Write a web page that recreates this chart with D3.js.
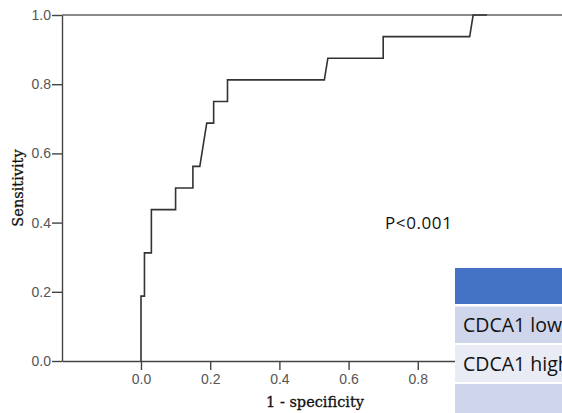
<!DOCTYPE html>
<html>
<head>
<meta charset="utf-8">
<script src="https://cdn.jsdelivr.net/npm/d3@7"></script>
<style>
  html, body { margin: 0; padding: 0; background: #fff; }
  svg { display: block; }
</style>
</head>
<body>
<script>
// ROC curve points (1 - specificity, sensitivity)
const fpr  = [0, 0, 0.01, 0.01, 0.03, 0.03, 0.10, 0.10, 0.15, 0.15, 0.17, 0.19, 0.21, 0.21, 0.25, 0.25, 0.53, 0.54, 0.70, 0.70, 0.95, 0.96, 1.0];
const sens = [0, 0.1875, 0.1875, 0.3125, 0.3125, 0.4375, 0.4375, 0.5, 0.5, 0.5625, 0.5625, 0.6875, 0.6875, 0.75, 0.75, 0.8125, 0.8125, 0.875, 0.875, 0.9375, 0.9375, 1.0, 1.0];
const xTicks = [0, 0.2, 0.4, 0.6, 0.8];
const yTicks = [0, 0.2, 0.4, 0.6, 0.8, 1.0];
const xTitle = "1 - specificity";
const yTitle = "Sensitivity";
const pText = "P<0.001";
const tableRows = ["", "CDCA1 low", "CDCA1 high", ""];

const W = 562, H = 413;
const svg = d3.select("body").append("svg").attr("width", W).attr("height", H);

const x = d3.scaleLinear().domain([-0.2283, 1.2168]).range([62, 562]);
const y = d3.scaleLinear().domain([0, 1]).range([361, 15]);

// top frame line
svg.append("line")
  .attr("x1", x(-0.2283)).attr("x2", 562)
  .attr("y1", y(1)).attr("y2", y(1))
  .attr("stroke", "#8a8a8a").attr("stroke-width", 2);

// X axis
const xAxis = svg.append("g").attr("transform", `translate(0,${y(0)})`)
  .call(d3.axisBottom(x).tickValues(xTicks).tickFormat(d3.format(".1f")).tickSize(9).tickSizeOuter(0).tickPadding(4));
// Y axis
const yAxis = svg.append("g").attr("transform", `translate(${x(-0.2283)},0)`)
  .call(d3.axisLeft(y).tickValues(yTicks).tickFormat(d3.format(".1f")).tickSize(10).tickSizeOuter(0).tickPadding(1));

[xAxis, yAxis].forEach(g => {
  g.select(".domain").attr("stroke", "#444").attr("stroke-width", 1.4);
  g.selectAll(".tick line").attr("stroke", "#444").attr("stroke-width", 1.4);
  g.selectAll(".tick text").attr("fill", "#555")
    .style("font-family", "'Liberation Sans', Arial, sans-serif").style("font-size", "14px");
});

// ROC step curve
const pts = fpr.map((f, i) => [f, sens[i]]);
svg.append("path")
  .attr("d", d3.line().x(d => x(d[0])).y(d => y(d[1]))(pts))
  .attr("fill", "none").attr("stroke", "#333").attr("stroke-width", 1.6);

// Axis titles
svg.append("text")
  .attr("x", 315).attr("y", 407)
  .attr("text-anchor", "middle")
  .style("font-family", "'DejaVu Serif', serif").style("font-size", "14.5px")
  .attr("fill", "#111").attr("stroke", "#111").attr("stroke-width", 0.3)
  .text(xTitle);
svg.append("text")
  .attr("transform", `translate(23,188) rotate(-90)`)
  .attr("text-anchor", "middle")
  .style("font-family", "'DejaVu Serif', serif").style("font-size", "14.5px")
  .attr("fill", "#111").attr("stroke", "#111").attr("stroke-width", 0.3)
  .text(yTitle);

// P value
svg.append("text")
  .attr("x", 385).attr("y", 228.5)
  .style("font-family", "'Open Sans', sans-serif").style("font-size", "17px")
  .style("letter-spacing", "0.6px")
  .attr("fill", "#111")
  .text(pText);

// Table overlay (cropped at the right edge, as in the reference)
const rowTops = [268, 306.5, 345, 384];
const rowBots = [304, 343, 382, 413];
const rowFill = ["#4472C4", "#CFD5EA", "#E9EBF5", "#CFD5EA"];
const tg = svg.append("g");
tg.append("rect").attr("x", 455).attr("y", 268).attr("width", W - 455).attr("height", H - 268).attr("fill", "#fff");
tableRows.forEach((t, i) => {
  tg.append("rect")
    .attr("x", 455).attr("y", rowTops[i])
    .attr("width", W - 455).attr("height", rowBots[i] - rowTops[i])
    .attr("fill", rowFill[i]);
  if (t) {
    tg.append("text")
      .attr("x", 463).attr("y", (rowTops[i] + rowBots[i]) / 2 + 7.5)
      .style("font-family", "'Open Sans', sans-serif").style("font-size", "19.5px")
      .attr("fill", "#111")
      .text(t);
  }
});
</script>
</body>
</html>
